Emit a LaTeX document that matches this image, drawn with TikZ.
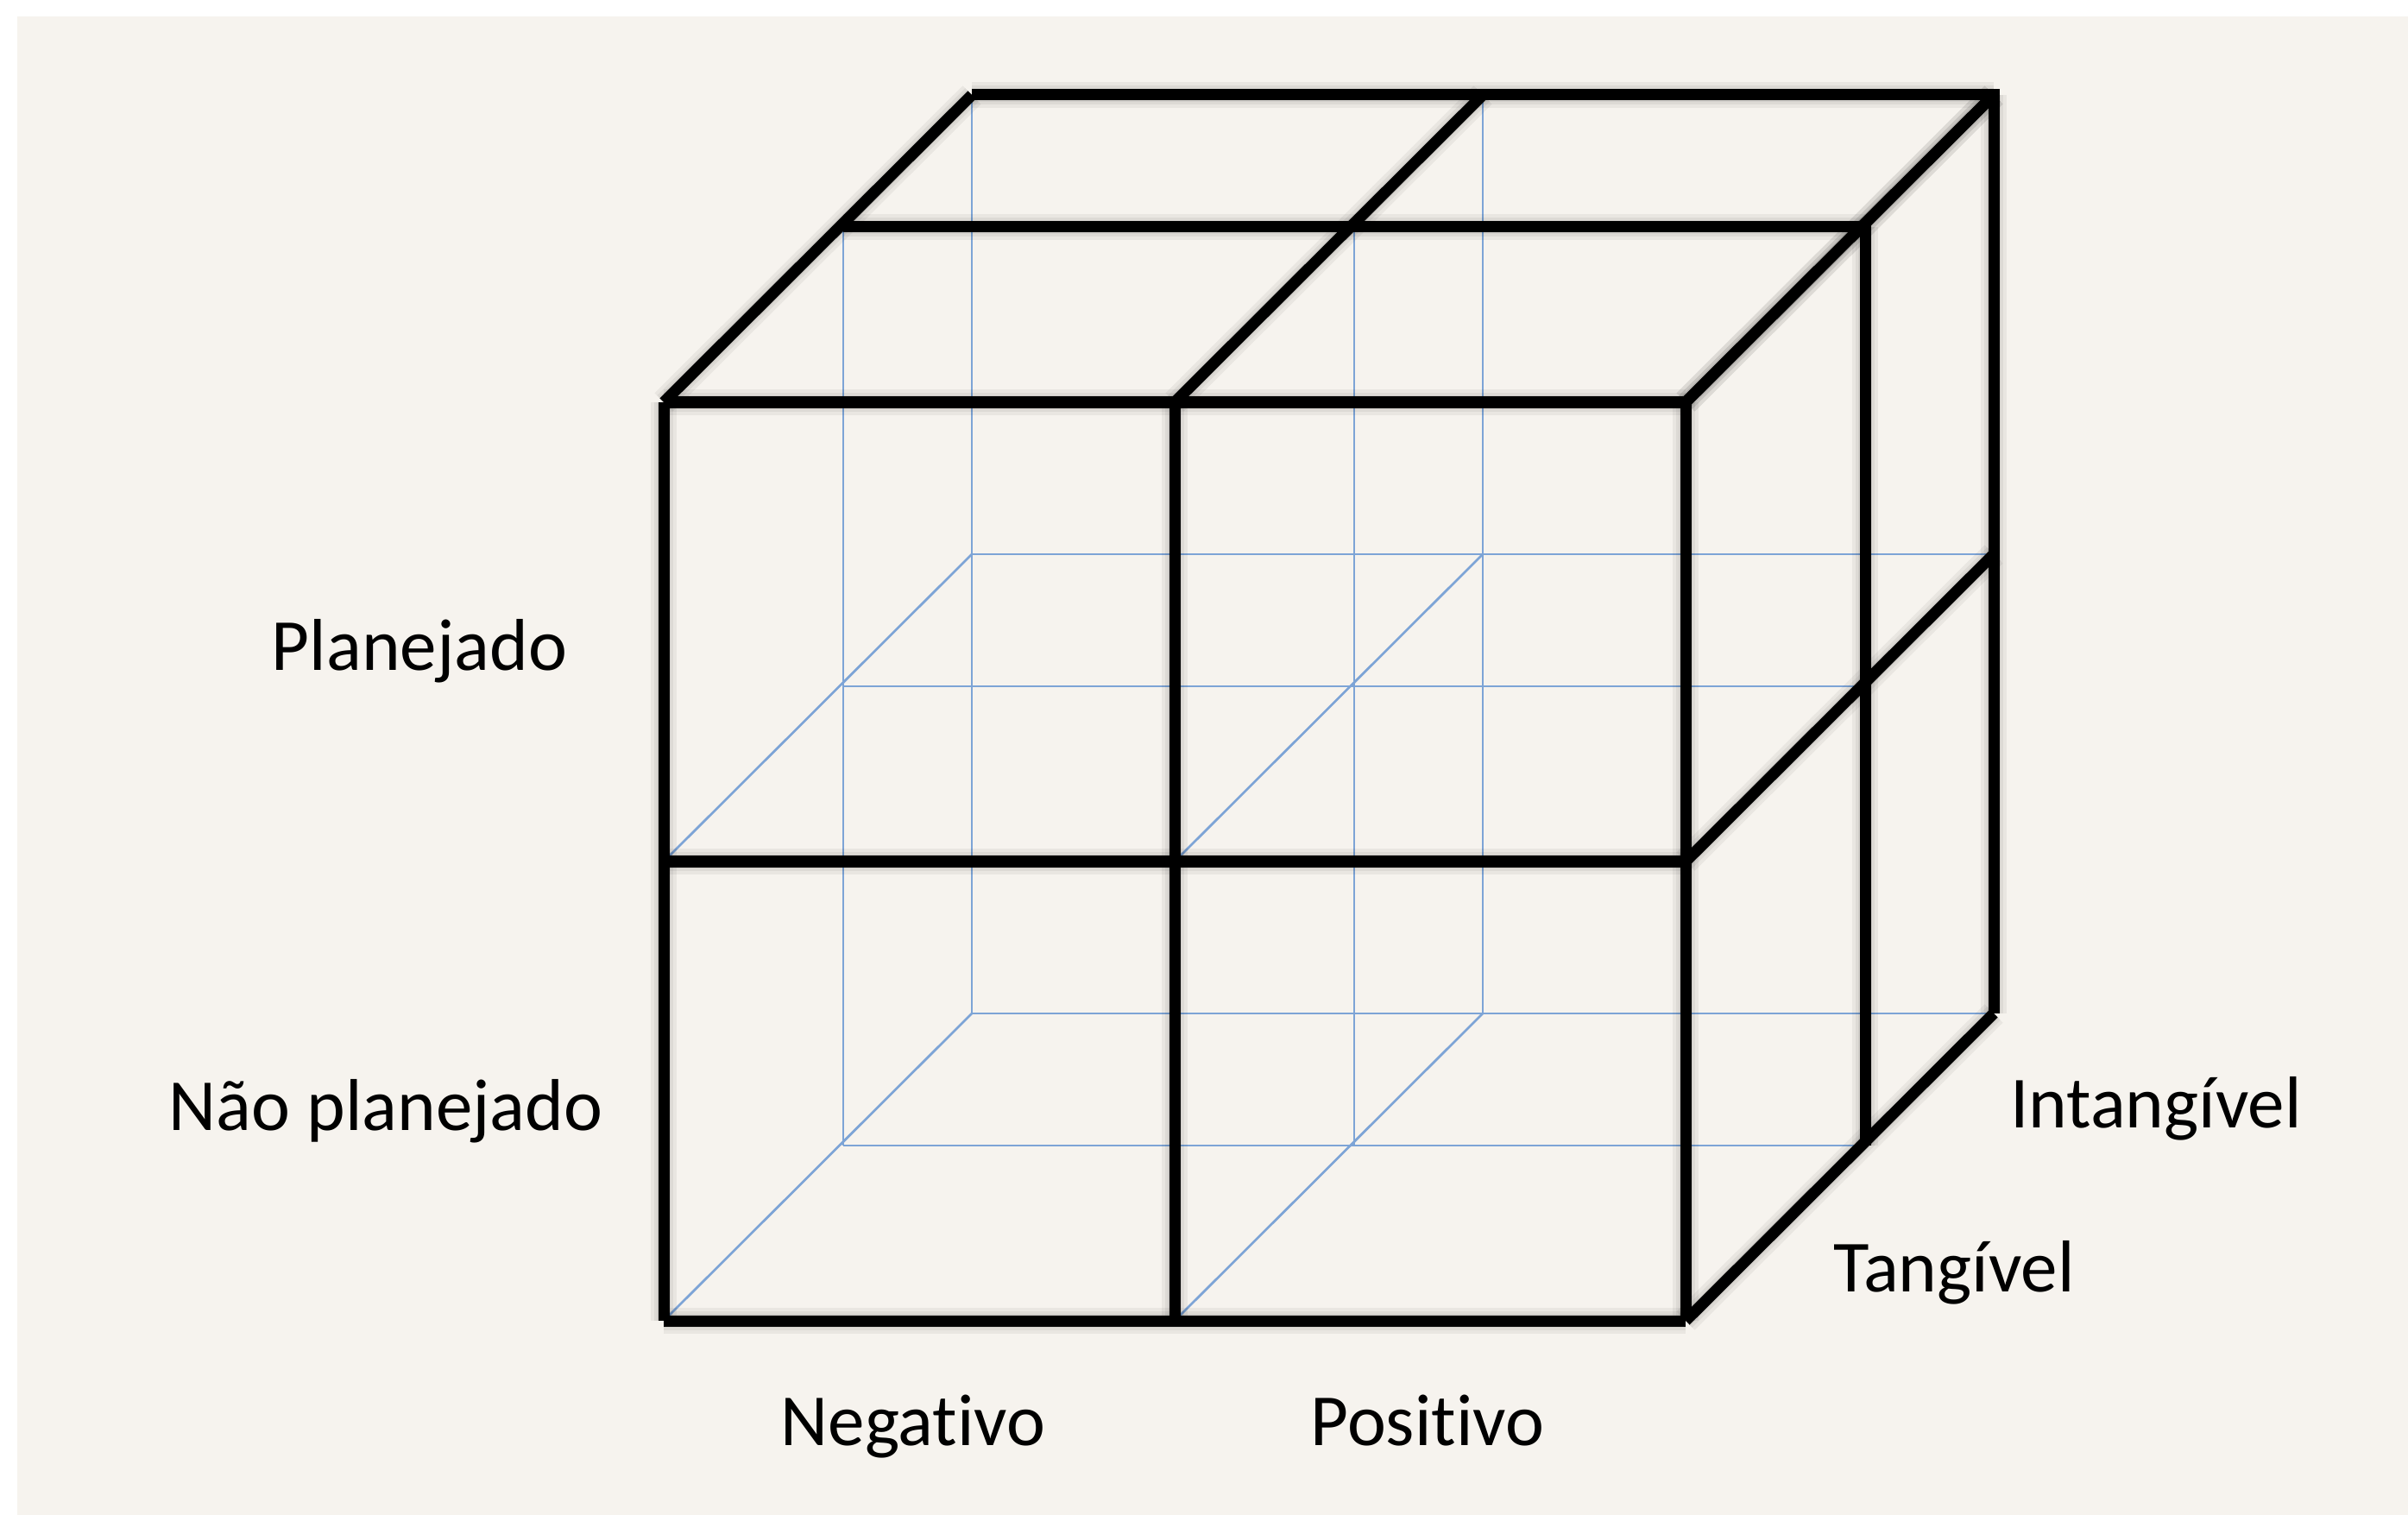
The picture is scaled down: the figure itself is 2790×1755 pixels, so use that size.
\documentclass[tikz,border=0pt]{standalone}
\usepackage{fontspec}
\setmainfont{Carlito}[Ligatures=NoCommon]
\definecolor{bgbeige}{RGB}{246,243,238}
\definecolor{gridblue}{RGB}{125,164,214}
\begin{document}
\begin{tikzpicture}[x=0.01cm,y=-0.01cm,
  edgeline/.style={line width=0.13cm, black, line join=miter, line cap=square},
  hiddenline/.style={line width=0.027cm, gridblue},
  shadowline/.style={line width=#1, black, opacity=0.05, line join=miter, line cap=square},
  lbl/.style={font=\fontsize{24.2}{29}\selectfont, inner sep=0pt, anchor=base}]
\useasboundingbox (0,0) rectangle (2790,1755);
\fill[white] (0,0) rectangle (2790,1755);
\fill[bgbeige] (20,19) rectangle (2790,1755);
% coordinates
\foreach \L/\dx/\dy in {f/0/0, m/208/-203, b/357/-356}{
  \foreach \i/\x in {0/769, 1/1361, 2/1953}{
    \foreach \j/\y in {0/1530, 1/998, 2/466}{
      \coordinate (\L-\i-\j) at ({\x+\dx},{\y+\dy});
    }
  }
}
% hidden grid lines
\foreach \L in {m,b}{
  \foreach \i in {0,1}{ \draw[hiddenline] (\L-\i-0) -- (\L-\i-2); }
  \foreach \j in {0,1}{ \draw[hiddenline] (\L-0-\j) -- (\L-2-\j); }
}
\foreach \i in {0,1}{ \foreach \j in {0,1}{
  \draw[hiddenline] (f-\i-\j) -- (b-\i-\j);
}}
% shadows of visible edges
\foreach \w in {0.30cm,0.22cm,0.16cm}{
\begin{scope}[shift={(7,7)}]
  \foreach \i in {0,1,2}{ \draw[shadowline=\w] (f-\i-0) -- (f-\i-2); }
  \foreach \j in {0,1,2}{ \draw[shadowline=\w] (f-0-\j) -- (f-2-\j); }
  \foreach \L in {m,b}{
    \draw[shadowline=\w] (\L-0-2) -- (\L-2-2);
    \draw[shadowline=\w] (\L-2-2) -- (\L-2-0);
  }
  \foreach \i in {0,1,2}{ \draw[shadowline=\w] (f-\i-2) -- (b-\i-2); }
  \foreach \j in {0,1,2}{ \draw[shadowline=\w] (f-2-\j) -- (b-2-\j); }
\end{scope}
}
% visible edges
\foreach \i in {0,1,2}{ \draw[edgeline] (f-\i-0) -- (f-\i-2); }
\foreach \j in {0,1,2}{ \draw[edgeline] (f-0-\j) -- (f-2-\j); }
\foreach \L in {m,b}{
  \draw[edgeline] (\L-0-2) -- (\L-2-2) -- (\L-2-0);
}
\foreach \i in {0,1,2}{ \draw[edgeline] (f-\i-2) -- (b-\i-2); }
\foreach \j in {0,1,2}{ \draw[edgeline] (f-2-\j) -- (b-2-\j); }
% labels
\node[lbl] (plan) at (486,776) {Planejado};
\node[lbl] (naoplan) at (447,1309) {Não planejado};
\node[lbl] (neg) at (1058,1674) {Negativo};
\node[lbl] (pos) at (1654,1674) {Positivo};
\node[lbl] (intang) at (2498,1306) {Intangível};
\node[lbl] (tang) at (2264,1496) {Tangível};
\end{tikzpicture}
\end{document}
